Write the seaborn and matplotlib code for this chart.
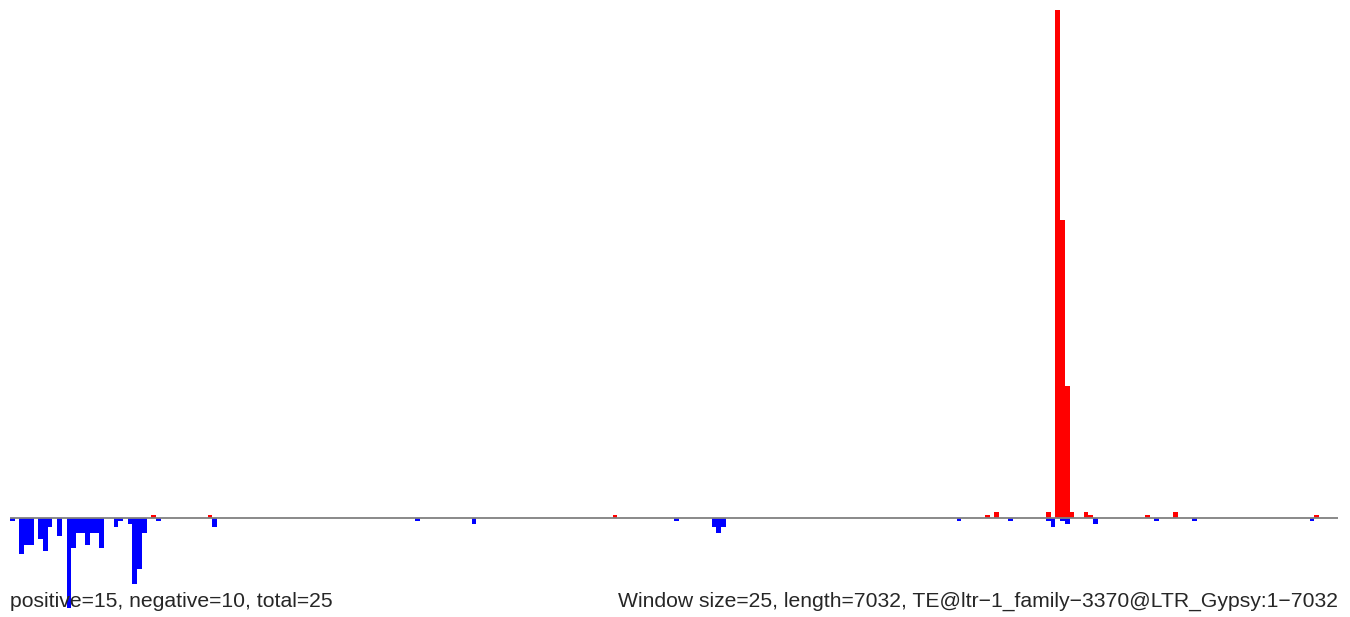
import matplotlib
matplotlib.use("Agg")
import matplotlib.pyplot as plt
import seaborn as sns
import pandas as pd
import numpy as np

# window size 25 over a 7032 bp element -> 282 windows
window_size = 25
n_windows = 282

# windows (0-based index) with forward (red) signal and their heights
pos_windows = [30, 42, 128, 207, 209, 220, 222, 223, 224, 225, 228, 229, 241, 247, 277]
pos_values = [1, 1, 1, 1, 2, 2, 169, 99, 44, 2, 2, 1, 1, 2, 1]

# windows with reverse (blue) signal and their depths
neg_windows = [0, 2, 3, 4, 6, 7, 8, 10, 12, 13, 14, 15, 16, 17, 18, 19, 22, 23, 25, 26,
               27, 28, 31, 43, 86, 98, 141, 149, 150, 151, 201, 212, 220, 221, 223, 224,
               230, 243, 251, 276]
neg_values = [1, 12, 9, 9, 7, 11, 3, 6, 30, 10, 5, 5, 9, 5, 5, 10, 3, 1, 2, 22,
              17, 5, 1, 3, 1, 2, 1, 3, 5, 3, 1, 1, 1, 3, 1, 2,
              2, 1, 1, 1]

left_label = "positive=15, negative=10, total=25"
right_label = "Window size=25, length=7032, TE@ltr\u22121_family\u22123370@LTR_Gypsy:1\u22127032"

sns.set_style("white")
plt.rcParams['font.family'] = ['Liberation Sans', 'DejaVu Sans']

pos = np.zeros(n_windows)
neg = np.zeros(n_windows)
pos[pos_windows] = pos_values
neg[neg_windows] = neg_values
df = pd.DataFrame({'mid': np.arange(n_windows) * window_size + window_size / 2,
                   'pos': pos, 'neg': -neg})

fig = plt.figure(figsize=(13.5, 6.17), dpi=100)
ax = fig.add_axes([10 / 1350, 9 / 617, 1328 / 1350, 598 / 617])

sns.barplot(data=df, x='mid', y='pos', native_scale=True, width=1, color='#ff0000',
            saturation=1, errorbar=None, linewidth=0, ax=ax)
sns.barplot(data=df, x='mid', y='neg', native_scale=True, width=1, color='#0000ff',
            saturation=1, errorbar=None, linewidth=0, ax=ax)
ax.axhline(0, color='#808080', lw=1.3, zorder=5)

ax.set_xlim(0, n_windows * window_size)
ax.set_ylim(-30, 169)
ax.axis('off')

fig.text(10 / 1350, 10 / 617, left_label, fontsize=15.2, ha='left', va='baseline')
fig.text(1338 / 1350, 10 / 617, right_label, fontsize=15.2, ha='right', va='baseline')

fig.savefig('out.png', dpi=100)
